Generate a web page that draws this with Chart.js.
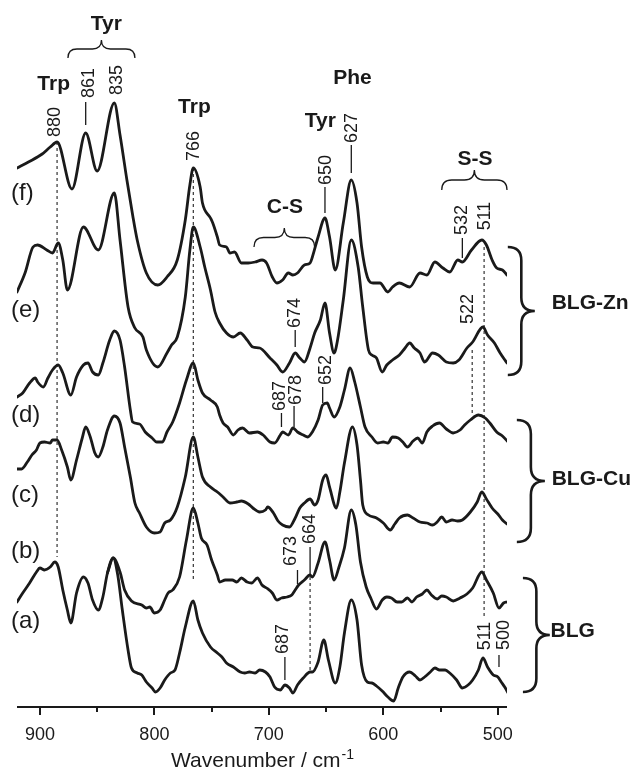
<!DOCTYPE html>
<html>
<head>
<meta charset="utf-8">
<script src="https://cdn.jsdelivr.net/npm/chart.js@4.4.1/dist/chart.umd.min.js"></script>
<style>
  html, body { margin: 0; padding: 0; background: #fff; }
  canvas { display: block; }
</style>
</head>
<body>
<canvas id="ramanChart" width="632" height="770"></canvas>
<script>
// Raman spectra, wavenumber (cm-1) vs stacked intensity (arbitrary units)
const fWn = [920,910,898,891,885,872,860,850,835,830,824,819,815,807,797,789,780,773,769,766,760,758,751,749,745,743,737,734,730,724,718,712,706,702,697,693,688,683,679,675,669,664,662,657,651,647,642,635,628,623,619,614,609,603,596,592,586,577,568,562,555,548,542,535,531,523,514,510,505,501,496,492]
const fI = [539,545,553,560,565,518,574,536,604,572,527,492,467,434,422,430,447,487,522,539,520,504,489,484,470,462,460,454,455,444,444,445,447,444,430,424,427,434,432,434,442,444,450,470,489,470,437,484,527,504,460,430,424,424,415,420,424,420,434,432,445,439,435,447,445,457,467,462,447,439,437,432]

const eWn = [920,913,906,902,894,889,884,880,876,862,849,835,830,823,817,810,807,797,789,785,780,773,769,766,760,756,751,747,743,737,731,725,719,714,708,699,693,688,682,677,673,669,664,660,655,651,647,643,640,635,628,622,618,613,610,606,601,597,592,586,581,577,573,568,564,557,552,545,539,534,527,522,513,509,503,498,492]
const eI = [415,434,460,462,457,454,464,447,417,480,457,514,467,400,379,370,357,340,354,362,370,410,457,480,460,440,417,395,384,374,370,374,367,360,359,349,342,335,344,354,349,345,359,374,387,404,374,354,367,407,467,440,400,357,352,349,335,342,347,352,359,364,359,354,345,354,352,345,344,347,359,365,380,372,364,354,344]

const dWn = [920,915,909,904,902,897,893,889,884,880,873,868,862,858,854,849,845,839,835,830,826,821,819,813,808,802,798,793,789,784,778,772,766,762,758,751,745,743,740,736,731,727,723,717,710,705,699,695,690,688,683,679,675,670,666,662,657,653,649,647,643,638,634,629,625,620,616,610,605,600,596,592,587,583,579,574,570,566,562,557,551,545,539,533,529,524,517,511,507,501,496,491]
const dI = [310,314,324,329,325,320,329,337,342,334,312,330,342,344,335,332,344,367,376,367,340,297,285,283,275,269,265,265,275,285,304,327,344,327,314,307,300,292,284,280,272,277,279,274,275,272,265,264,272,275,272,279,275,272,270,275,287,302,304,299,290,300,317,339,325,300,280,270,264,265,264,270,269,265,260,266,269,264,275,281,284,278,274,277,282,287,292,289,284,275,271,265]

const cWn = [920,916,911,907,903,900,896,891,889,885,881,876,873,868,863,860,856,852,849,845,841,835,830,826,821,817,813,807,800,795,791,786,780,773,766,762,758,751,745,740,734,728,724,718,714,708,703,701,696,692,688,682,677,673,669,664,660,657,653,650,647,641,638,634,627,623,620,618,613,606,600,594,590,586,579,574,568,562,557,553,549,545,540,535,531,524,518,514,510,505,500,496,492]
const cI = [238,238,245,252,257,264,265,264,267,267,257,240,227,247,269,280,270,254,250,260,277,291,284,260,230,204,194,180,174,175,184,187,200,230,270,250,230,220,215,210,204,205,206,203,199,195,197,200,194,186,182,180,189,199,204,208,202,207,227,232,220,199,215,244,280,262,227,202,192,189,184,177,183,189,192,189,185,184,182,185,190,185,187,186,187,195,205,215,208,199,193,187,183]

const bWn = [920,915,909,903,900,896,891,887,884,880,876,873,868,862,858,854,849,845,841,836,830,826,820,811,807,804,800,795,791,788,784,778,772,766,762,759,754,750,745,743,738,732,728,724,719,715,710,706,702,697,693,689,684,680,677,674,669,664,662,657,651,647,643,639,634,628,624,620,615,611,606,601,597,593,588,584,579,575,571,566,562,558,553,549,545,539,533,527,522,514,510,504,499,495,492]
const bI = [105,114,124,135,139,137,140,145,140,117,97,84,114,130,124,107,97,110,134,149,135,117,106,102,99,100,94,97,107,114,117,130,167,199,184,169,162,147,132,125,127,127,125,129,125,124,129,122,119,114,107,109,110,112,117,122,127,132,130,144,165,147,127,139,159,197,182,145,120,109,98,107,110,109,105,105,109,105,110,113,117,112,108,111,110,106,109,113,119,135,127,114,99,104,105]

const aWn = [841,836,832,828,823,820,815,811,807,802,799,795,791,786,782,778,773,766,762,758,751,745,741,737,731,725,721,717,712,708,703,699,695,690,686,682,679,675,670,664,662,657,652,648,642,638,634,628,623,619,614,610,606,601,596,591,587,583,577,572,568,564,559,555,551,546,542,536,531,526,522,517,513,509,504,500,497,494,491]
const aI = [134,149,132,97,57,39,34,32,25,19,15,19,27,34,37,54,80,106,87,74,60,54,50,44,40,35,34,35,34,37,35,30,20,17,22,19,14,22,29,35,35,45,67,47,24,40,74,107,87,42,25,24,21,16,10,6,19,30,35,31,27,30,35,39,37,37,34,27,19,22,27,37,49,40,32,30,25,20,14]

const xTicks = [900, 800, 700, 600, 500]
const xMinorTicks = [850, 750, 650, 550]

// text, wavenumber, height, leader [wn, top, bottom]
const peakNotes = [
  ['880', 887, 585, null],
  ['861', 857, 624, [860, 605, 582]],
  ['835', 833, 627, null],
  ['766', 765, 561, null],
  ['650', 650, 537, [651, 520, 494]],
  ['627', 627, 579, [628, 562, 534]],
  ['532', 531, 487, [531, 469, 449]],
  ['511', 511, 491, null],
  ['674', 677, 394, [677, 377, 360]],
  ['687', 690, 311, [689, 294, 280]],
  ['678', 676, 317, [678, 301, 280]],
  ['652', 650, 337, [653, 320, 304]],
  ['522', 526, 398, null],
  ['673', 681, 156, [675, 137, 123]],
  ['664', 664, 178, [664, 160, 132]],
  ['687', 688, 68, [686, 50, 27]],
  ['511', 511, 71, null],
  ['500', 495, 72, [499, 52, 40]],
]

// wn, from, to
const dottedLines = [
  [885, 565, 150],
  [766, 539, 125],
  [664, 130, 37],
  [522.4, 357, 294],
  [512, 460, 90],
]

// text, wn, baseline height, align
const groupLabels = [
  ['Tyr', 842, 677, 'center'],
  ['Trp', 888, 617, 'center'],
  ['Trp', 765, 594, 'center'],
  ['C-S', 686, 494, 'center'],
  ['Tyr', 655, 580, 'center'],
  ['Phe', 627, 623, 'center'],
  ['S-S', 520, 542, 'center'],
  ['BLG-Zn', 453, 398, 'left'],
  ['BLG-Cu', 453, 222, 'left'],
  ['BLG', 454, 70, 'left'],
]

const traceLabels = [
  ['(f)', 507], ['(e)', 390], ['(d)', 285], ['(c)', 205], ['(b)', 149], ['(a)', 79],
]

// wn from, wn to, ends height, tip height
const hBraces = [
  [875.5, 817, 649, 667],
  [713, 660, 460, 479],
  [549, 492, 517, 537],
]
// wn ends, wn tip, height top, height bottom
const vBraces = [
  [491.3, 467.7, 460, 332],
  [483.4, 458.9, 287, 165],
  [478.1, 454.6, 129, 15],
]

const FONT = "'Liberation Sans', Arial, Helvetica, sans-serif"
const INK = '#1a1a1a'

const rotText = (ctx, str, px, py) => {
    ctx.save()
    ctx.translate(px, py)
    ctx.rotate(-Math.PI / 2)
    ctx.textAlign = 'center'
    ctx.textBaseline = 'middle'
    ctx.fillText(str, 0, 0)
    ctx.restore()
}

const hBrace = (ctx, x0, x1, yEnd, yTip) => {
    const yBar = (yEnd + yTip) / 2
    const r = Math.abs(yEnd - yTip) / 2
    const xm = (x0 + x1) / 2
    const s = Math.sign(x1 - x0)
    ctx.beginPath()
    ctx.moveTo(x0, yEnd)
    ctx.quadraticCurveTo(x0, yBar, x0 + s * r, yBar)
    ctx.lineTo(xm - s * r, yBar)
    ctx.quadraticCurveTo(xm, yBar, xm, yTip)
    ctx.quadraticCurveTo(xm, yBar, xm + s * r, yBar)
    ctx.lineTo(x1 - s * r, yBar)
    ctx.quadraticCurveTo(x1, yBar, x1, yEnd)
    ctx.stroke()
}

const vBrace = (ctx, x0, xTip, y0, y1) => {
    const xBar = (x0 + xTip) / 2
    const r = (xTip - x0) / 2
    const ym = (y0 + y1) / 2
    ctx.beginPath()
    ctx.moveTo(x0, y0)
    ctx.quadraticCurveTo(xBar, y0, xBar, y0 + r)
    ctx.lineTo(xBar, ym - r)
    ctx.quadraticCurveTo(xBar, ym, xTip, ym)
    ctx.quadraticCurveTo(xBar, ym, xBar, ym + r)
    ctx.lineTo(xBar, y1 - r)
    ctx.quadraticCurveTo(xBar, y1, x0, y1)
    ctx.stroke()
}

const annotations = {
    id: 'annotations',
    beforeDatasetsDraw(chart) {
        const {ctx, scales: {x, y}} = chart
        ctx.save()
        ctx.strokeStyle = '#333'
        ctx.lineWidth = 1.2
        ctx.setLineDash([3, 3])
        for (const [wn, h1, h2] of dottedLines) {
            const px = x.getPixelForValue(wn)
            ctx.beginPath()
            ctx.moveTo(px, y.getPixelForValue(h1))
            ctx.lineTo(px, y.getPixelForValue(h2))
            ctx.stroke()
        }
        ctx.restore()
    },
    afterDraw(chart) {
        const {ctx, chartArea, scales: {x, y}} = chart
        ctx.save()
        ctx.fillStyle = INK
        ctx.strokeStyle = INK

        // x axis line and ticks
        ctx.lineWidth = 2
        ctx.beginPath()
        ctx.moveTo(chartArea.left, chartArea.bottom)
        ctx.lineTo(chartArea.right, chartArea.bottom)
        ctx.stroke()
        for (const v of xTicks) {
            const px = Math.round(x.getPixelForValue(v))
            ctx.beginPath()
            ctx.moveTo(px, chartArea.bottom)
            ctx.lineTo(px, chartArea.bottom + 8)
            ctx.stroke()
        }
        for (const v of xMinorTicks) {
            const px = Math.round(x.getPixelForValue(v))
            ctx.beginPath()
            ctx.moveTo(px, chartArea.bottom)
            ctx.lineTo(px, chartArea.bottom + 5)
            ctx.stroke()
        }

        // axis title with superscript
        const main = 'Wavenumber / cm'
        const sup = '-1'
        ctx.font = `21px ${FONT}`
        const w1 = ctx.measureText(main).width
        ctx.font = `14px ${FONT}`
        const w2 = ctx.measureText(sup).width
        const cx = (chartArea.left + chartArea.right) / 2
        const tx = cx - (w1 + w2) / 2
        ctx.textAlign = 'left'
        ctx.textBaseline = 'alphabetic'
        ctx.font = `21px ${FONT}`
        ctx.fillText(main, tx, 767)
        ctx.font = `14px ${FONT}`
        ctx.fillText(sup, tx + w1 + 1, 759)

        // peak numbers and leaders
        ctx.font = `18px ${FONT}`
        ctx.lineWidth = 1.3
        for (const [txt, wn, h, leader] of peakNotes) {
            rotText(ctx, txt, x.getPixelForValue(wn), y.getPixelForValue(h))
            if (leader) {
                const lx = x.getPixelForValue(leader[0])
                ctx.beginPath()
                ctx.moveTo(lx, y.getPixelForValue(leader[1]))
                ctx.lineTo(lx, y.getPixelForValue(leader[2]))
                ctx.stroke()
            }
        }

        // bold group labels
        ctx.font = `bold 21px ${FONT}`
        ctx.textBaseline = 'alphabetic'
        for (const [txt, wn, h, align] of groupLabels) {
            ctx.textAlign = align
            ctx.fillText(txt, x.getPixelForValue(wn), y.getPixelForValue(h))
        }

        // trace letters
        ctx.font = `24px ${FONT}`
        ctx.textAlign = 'left'
        for (const [txt, h] of traceLabels) {
            ctx.fillText(txt, 11, y.getPixelForValue(h))
        }

        // braces
        ctx.lineWidth = 1.3
        for (const [w0, w1b, hEnd, hTip] of hBraces) {
            hBrace(ctx, x.getPixelForValue(w0), x.getPixelForValue(w1b), y.getPixelForValue(hEnd), y.getPixelForValue(hTip))
        }
        ctx.lineWidth = 2.6
        for (const [wEnd, wTip, hTop, hBot] of vBraces) {
            vBrace(ctx, x.getPixelForValue(wEnd), x.getPixelForValue(wTip), y.getPixelForValue(hTop), y.getPixelForValue(hBot))
        }
        ctx.restore()
    }
}

const traces = [[fWn, fI], [eWn, eI], [dWn, dI], [cWn, cI], [bWn, bI], [aWn, aI]]

const createSpectraPlot = () => {
    const ctx = document.getElementById('ramanChart').getContext('2d')
    new Chart(ctx, {
        type: 'line',
        data: {
            datasets: traces.map(([wn, inten]) => ({
                data: wn.map((v, i) => ({x: v, y: inten[i]})),
                borderColor: INK,
                borderWidth: 2.8,
                borderJoinStyle: 'round',
                borderCapStyle: 'round',
                pointRadius: 0,
                fill: false,
                cubicInterpolationMode: 'monotone',
            }))
        },
        options: {
            responsive: false,
            animation: false,
            devicePixelRatio: 1,
            layout: {padding: {left: 17, right: 125, top: 0, bottom: 0}},
            plugins: {legend: {display: false}, tooltip: {enabled: false}},
            scales: {
                x: {
                    type: 'linear',
                    reverse: true,
                    min: 492,
                    max: 920,
                    afterBuildTicks: (scale) => { scale.ticks = xTicks.map(v => ({value: v})) },
                    afterFit: (scale) => { scale.height = 63 },
                    grid: {display: false, drawTicks: false},
                    border: {display: false},
                    ticks: {
                        color: INK,
                        font: {family: FONT, size: 18},
                        padding: 17,
                        maxRotation: 0,
                        autoSkip: false,
                    },
                },
                y: {
                    type: 'linear',
                    display: false,
                    min: 0,
                    max: 707,
                },
            },
        },
        plugins: [annotations],
    })
}

document.addEventListener('DOMContentLoaded', () => {
    createSpectraPlot()
})
</script>
</body>
</html>
